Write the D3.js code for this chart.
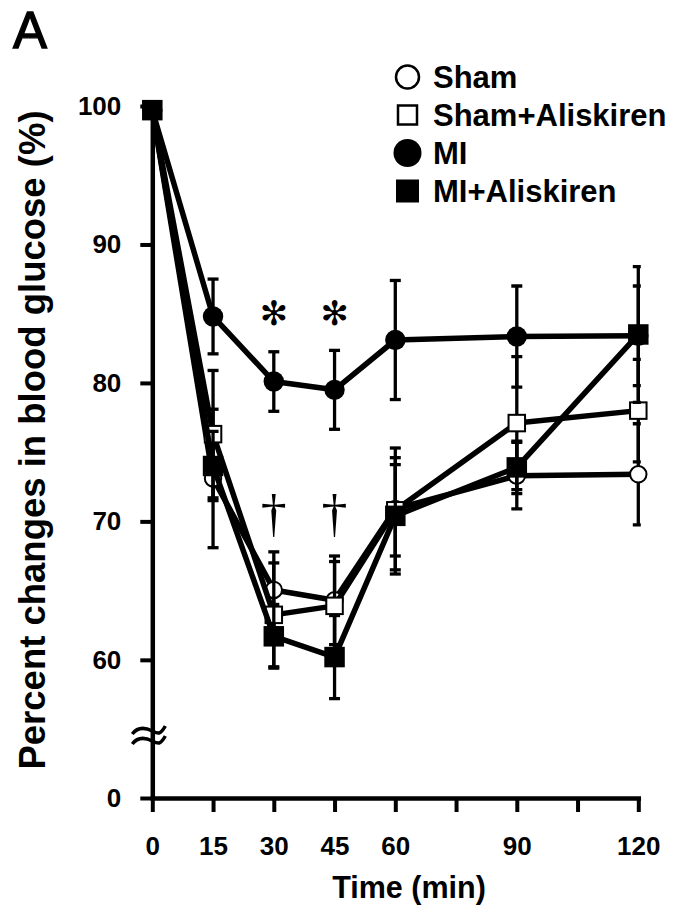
<!DOCTYPE html>
<html>
<head>
<meta charset="utf-8">
<script src="https://cdn.jsdelivr.net/npm/d3@7"></script>
<style>
  body { margin: 0; background: #fff; }
  svg { display: block; }
</style>
</head>
<body>
<svg id="chart" width="679" height="910"></svg>
<script>
// Sampling times (min) and axis ticks
const times = [0, 15, 30, 45, 60, 90, 120];
const xTicks = [0, 15, 30, 45, 60, 75, 90, 105, 120];
const xLabels = [0, 15, 30, 45, 60, 90, 120];
const yTicks = [0, 60, 70, 80, 90, 100];

// Group names, in drawing/legend order
const seriesNames = ["Sham", "Sham+Aliskiren", "MI", "MI+Aliskiren"];

// Percent change in blood glucose: mean and SEM per time point
const shamMean    = [99.7, 73.1, 65.05, 64.3, 70.9, 73.3, 73.4];
const shamErr     = [0, 5.0, 2.75, 3.2, 4.4, 2.4, 3.65];
const shamAliMean = [99.7, 76.3, 63.25, 63.9, 70.8, 77.1, 78.0];
const shamAliErr  = [0, 4.6, 3.75, 3.2, 3.3, 4.8, 3.7];
const miMean      = [99.7, 84.8, 80.1, 79.5, 83.1, 83.35, 83.4];
const miErr       = [0, 2.7, 2.15, 2.85, 4.3, 3.65, 3.6];
const miAliMean   = [99.7, 74.0, 61.7, 60.2, 70.4, 73.9, 83.5];
const miAliErr    = [0, 2.5, 2.3, 3.0, 4.2, 1.9, 4.9];

// Significance symbols: asterisk vs Sham, dagger vs MI
const sigTimes   = [30, 45, 30, 45];
const sigLevels  = [85.1, 85.1, 70.4, 70.4];
const sigSymbols = ["\u273B", "\u273B", "\u2020", "\u2020"];

const means = [shamMean, shamAliMean, miMean, miAliMean];
const errs  = [shamErr, shamAliErr, miErr, miAliErr];
const markerKinds = ["openCircle", "openSquare", "filledCircle", "filledSquare"];

const series = seriesNames.map((name, i) => ({
  name,
  kind: markerKinds[i],
  points: times.map((t, j) => ({ t, v: means[i][j], e: errs[i][j] }))
}));

const FONT = "'Liberation Sans', Arial, Helvetica, sans-serif";
const svg = d3.select("#chart");

// Scales: the y axis is broken between 0 and the 55-100 range
const x = d3.scaleLinear().domain([0, 120]).range([152.3, 638.3]);
const y = d3.scaleLinear().domain([0, 54.5, 100]).range([798, 736, 106]);

// Panel letter
svg.append("text")
  .attr("x", 13).attr("y", 48)
  .attr("font-family", FONT).attr("font-size", 51)
  .attr("stroke", "#000").attr("stroke-width", 1.3)
  .text("A");

// Y axis
const yAxis = svg.append("g")
  .attr("transform", `translate(${x(0)},0)`)
  .call(d3.axisLeft(y).tickValues(yTicks).tickSize(12).tickSizeOuter(0).tickPadding(19));
yAxis.attr("font-family", FONT).attr("font-size", 26).attr("font-weight", "bold");
yAxis.select(".domain").attr("stroke-width", 4.5);
yAxis.selectAll(".tick line").attr("stroke-width", 4);
yAxis.selectAll(".tick text").attr("fill", "#000");

// X axis
const xAxis = svg.append("g")
  .attr("transform", `translate(0,${y(0)})`)
  .call(d3.axisBottom(x).tickValues(xTicks).tickSize(14).tickSizeOuter(0)
    .tickFormat(d => xLabels.includes(d) ? d : ""));
xAxis.attr("font-family", FONT).attr("font-size", 26).attr("font-weight", "bold");
xAxis.select(".domain").attr("stroke-width", 4.5).attr("stroke-linecap", "square");
xAxis.selectAll(".tick line").attr("stroke-width", 4);
xAxis.selectAll(".tick text").attr("y", 57).attr("dy", null).attr("fill", "#000");

// Axis break marks
const yb = y(54.5), x0 = x(0);
[-5, 5].forEach(off => {
  svg.append("path")
    .attr("d", `M${x0 - 20},${yb + off + 3} C${x0 - 14},${yb + off - 5} ${x0 - 6},${yb + off - 3} ${x0},${yb + off}` +
               ` S${x0 + 8},${yb + off + 4} ${x0 + 13},${yb + off - 5}`)
    .attr("fill", "none").attr("stroke", "#000").attr("stroke-width", 3.5);
});

// Axis titles
svg.append("text")
  .attr("transform", `translate(45,440) rotate(-90)`)
  .attr("text-anchor", "middle")
  .attr("font-family", FONT).attr("font-size", 36.5).attr("font-weight", "bold")
  .text("Percent changes in blood glucose (%)");

svg.append("text")
  .attr("x", 409).attr("y", 898)
  .attr("text-anchor", "middle")
  .attr("font-family", FONT).attr("font-size", 30.5).attr("font-weight", "bold")
  .text("Time (min)");

// Error bars are cut at the right end of the x axis
svg.append("clipPath").attr("id", "plotClip")
  .append("rect").attr("x", 0).attr("y", 0).attr("width", x(120) + 2.5).attr("height", 910);

function drawMarker(g, kind, cx, cy, big) {
  if (kind === "openCircle") {
    g.append("circle").attr("cx", cx).attr("cy", cy).attr("r", big ? 11.5 : 8.2)
      .attr("fill", "#fff").attr("stroke", "#000").attr("stroke-width", big ? 2.5 : 2);
  } else if (kind === "filledCircle") {
    g.append("circle").attr("cx", cx).attr("cy", cy).attr("r", big ? 14 : 10.2).attr("fill", "#000");
  } else if (kind === "openSquare") {
    const h = big ? 19 : 16.5;
    g.append("rect").attr("x", cx - h / 2).attr("y", cy - h / 2).attr("width", h).attr("height", h)
      .attr("fill", "#fff").attr("stroke", "#000").attr("stroke-width", big ? 2.5 : 2);
  } else {
    const h = big ? 23 : 20.5;
    g.append("rect").attr("x", cx - h / 2).attr("y", cy - h / 2).attr("width", h).attr("height", h)
      .attr("fill", "#000");
  }
}

const line = d3.line().x(d => x(d.t)).y(d => y(d.v));
const plot = svg.append("g");

series.forEach(s => {
  const g = plot.append("g");
  // error bars
  const eb = g.append("g").attr("clip-path", "url(#plotClip)")
    .attr("stroke", "#000").attr("stroke-width", 3.3);
  s.points.filter(p => p.e > 0).forEach(p => {
    const cx = x(p.t), top = y(p.v + p.e), bot = y(p.v - p.e);
    eb.append("line").attr("x1", cx).attr("x2", cx).attr("y1", top).attr("y2", bot);
    eb.append("line").attr("x1", cx - 5.5).attr("x2", cx + 5.5).attr("y1", top).attr("y2", top);
    eb.append("line").attr("x1", cx - 5.5).attr("x2", cx + 5.5).attr("y1", bot).attr("y2", bot);
  });
  // connecting line
  g.append("path").datum(s.points).attr("d", line)
    .attr("fill", "none").attr("stroke", "#000").attr("stroke-width", 5.5)
    .attr("stroke-linejoin", "round");
  // markers
  s.points.forEach(p => drawMarker(g, s.kind, x(p.t), y(p.v), false));
});

// Significance symbols: glyph ink is measured so each symbol gets a set height
// and is centred on its position
const measureCtx = document.createElement("canvas").getContext("2d");
function inkBox(ch, family, size) {
  measureCtx.font = `${size}px ${family}`;
  const m = measureCtx.measureText(ch);
  return { asc: m.actualBoundingBoxAscent, desc: m.actualBoundingBoxDescent,
           left: m.actualBoundingBoxLeft, right: m.actualBoundingBoxRight };
}
sigSymbols.forEach((sym, i) => {
  const isStar = sym === "\u273B";
  const family = isStar ? "'DejaVu Sans'" : "'Liberation Serif'";
  const targetH = isStar ? 26 : 42;
  const b0 = inkBox(sym, family, 100);
  const fs = 100 * targetH / (b0.asc + b0.desc);
  const b = inkBox(sym, family, fs);
  const cx = x(sigTimes[i]), cy = y(sigLevels[i]);
  svg.append("text")
    .attr("font-family", family).attr("font-size", fs)
    .attr("x", cx - (b.right - b.left) / 2)
    .attr("y", cy + (b.asc - b.desc) / 2)
    .text(sym);
});

// Legend
const legend = svg.append("g");
const legendY = [77, 115, 153, 191];
series.forEach((s, i) => {
  drawMarker(legend, s.kind, 407.5, legendY[i], true);
  legend.append("text")
    .attr("x", 433).attr("y", legendY[i] + 11)
    .attr("font-family", FONT).attr("font-size", 31).attr("font-weight", "bold")
    .text(s.name);
});
</script>
</body>
</html>
